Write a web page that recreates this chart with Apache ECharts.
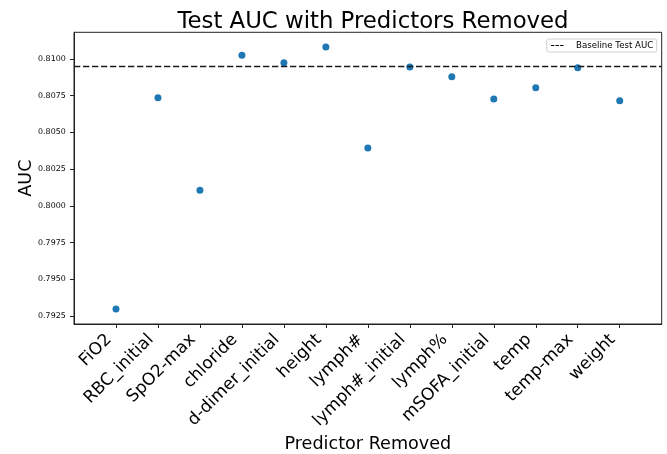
<!DOCTYPE html>
<html><head><meta charset="utf-8">
<script src="https://cdn.jsdelivr.net/npm/echarts@6/dist/echarts.min.js"></script>
<style>html,body{margin:0;padding:0;background:#fff}#c{width:667px;height:454px}</style>
</head><body><div id="c"></div>
<script>
const categories = ['FiO2','RBC_initial','SpO2-max','chloride','d-dimer_initial','height','lymph#','lymph#_initial','lymph%','mSOFA_initial','temp','temp-max','weight'];
const aucValues = [0.79297,0.80736,0.80106,0.81025,0.80975,0.81082,0.80394,0.80946,0.80880,0.80728,0.80805,0.80941,0.80716];
const baselineAUC = [0.80948];
const yTicks = [0.7925,0.7950,0.7975,0.8000,0.8025,0.8050,0.8075,0.8100];

const padded = [' '].concat(categories, ['  ']);
const font = 'DejaVu Sans';
const chart = echarts.init(document.getElementById('c'), null, {renderer:'canvas'});
chart.setOption({
  animation:false,
  title:{text:'Test AUC with Predictors Removed', left:368, textAlign:'center', top:6,
    textStyle:{fontFamily:font, fontSize:22.8, fontWeight:'normal', color:'#000'}},
  legend:{right:10.3, top:39, padding:[1.5,3.4,1.5,4.3], borderColor:'#d0d0d0', borderWidth:1, borderRadius:2,
    itemWidth:12.4, itemHeight:8, itemGap:5,
    textStyle:{fontFamily:font, fontSize:8.65, color:'#000', lineHeight:10, padding:[0,0,0,7.6]},
    data:[{name:'Baseline Test AUC', icon:'path://M0,3.4 L3.3,3.4 L3.3,4.6 L0,4.6 Z M4.55,3.4 L7.85,3.4 L7.85,4.6 L4.55,4.6 Z M9.1,3.4 L12.4,3.4 L12.4,4.6 L9.1,4.6 Z', itemStyle:{color:'#000'}}]},
  grid:{left:74, right:5.3, top:32.3, bottom:130, show:true, borderColor:'#222', borderWidth:1, containLabel:false, outerBoundsMode:'none'},
  xAxis:{type:'category', data:padded, boundaryGap:false,
    name:'Predictor Removed', nameLocation:'middle', nameGap:111, nameMoveOverlap:false,
    nameTextStyle:{fontFamily:font, fontSize:17.6, color:'#000'},
    axisLine:{lineStyle:{color:'#222', width:1}},
    axisTick:{length:4, lineStyle:{color:'#222'}, interval:(i)=> i>0 && i<padded.length-1},
    axisLabel:{interval:(i)=> i>0 && i<padded.length-1, rotate:45, margin:6, fontFamily:font, fontSize:17, color:'#000', padding:[0,10,0,0]},
    splitLine:{show:false}},
  yAxis:{type:'value', min:0.79195, max:0.81182,
    name:'AUC', nameLocation:'middle', nameGap:39, nameMoveOverlap:false,
    nameTextStyle:{fontFamily:font, fontSize:17.6, color:'#000'},
    axisLine:{show:true, lineStyle:{color:'#222', width:1}},
    axisTick:{show:true, length:4, lineStyle:{color:'#222'}, customValues:yTicks},
    axisLabel:{margin:8.3, fontFamily:font, fontSize:7.9, color:'#000', customValues:yTicks,
      formatter:(v)=> v.toFixed(4)},
    splitLine:{show:false}},
  series:[
    {name:'AUC', type:'scatter', symbolSize:7, itemStyle:{color:'#1f77b4', opacity:1},
      data:categories.map((c,i)=>[c, aucValues[i]])},
    {name:'Baseline Test AUC', type:'line', data:[], symbol:'none',
      lineStyle:{color:'#000', type:[6.3,2.7], width:1.2},
      markLine:{silent:true, symbol:'none', precision:6, label:{show:false},
        lineStyle:{color:'#1a1a1a', type:[6.3,2.7], width:1.3},
        data:baselineAUC.map(v=>({yAxis:v}))}}
  ]
});
</script></body></html>
